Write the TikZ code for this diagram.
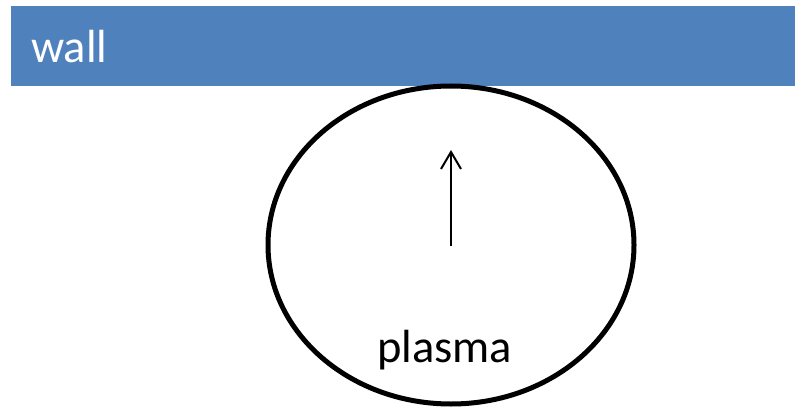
\documentclass[tikz,border=0pt]{standalone}
\usepackage{fontspec}
\setmainfont{Carlito}
\usetikzlibrary{arrows.meta}
\definecolor{wallblue}{HTML}{4F81BD}
\tikzset{
  wallbar/.style={fill=wallblue, draw=none},
  plasmaring/.style={draw=black, line width=5pt},
  driftarrow/.style={draw=black, line width=2pt, -{Straight Barb[length=17pt,width=20pt,line width=2pt]}},
  lbl/.style={font=\fontsize{46.5}{50}\selectfont, inner sep=0pt, anchor=base west}
}
\begin{document}
\begin{tikzpicture}[x=1pt,y=-1pt]
\useasboundingbox (0,0) rectangle (797,409);
\fill[wallbar] (11,6) rectangle (795,86);
\node[lbl, text=white] (wall) at (31,63) {wall};
\draw[plasmaring] (451,245) ellipse [x radius=183, y radius=159];
\coordinate (base) at (451,246);
\coordinate (tip) at (451,150);
\draw[driftarrow] (base) -- (tip);
\node[lbl, text=black] (plasma) at (377,362) {plasma};
\end{tikzpicture}
\end{document}
